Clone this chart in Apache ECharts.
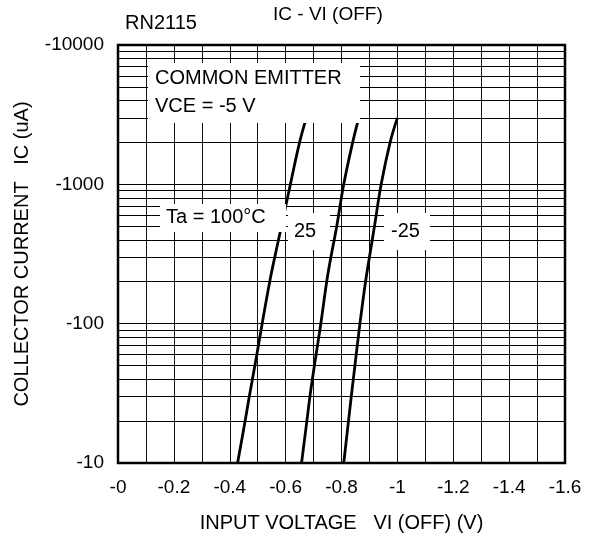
<!DOCTYPE html>
<html>
<head>
<meta charset="utf-8">
<script src="https://cdn.jsdelivr.net/npm/echarts@6/dist/echarts.min.js"></script>
<style>
  html, body { margin: 0; padding: 0; background: #fff; }
  #chart { width: 590px; height: 538px; }
</style>
</head>
<body>
<div id="chart"></div>
<script>
// magnitudes: the real values are negative (IC in uA, VI(OFF) in V)
const currentUA = [10, 20, 30, 50, 100, 200, 300, 500, 1000, 2000, 3000]
const viTa100 = [0.428, 0.455, 0.470, 0.490, 0.516, 0.543, 0.561, 0.585, 0.617, 0.650, 0.674]
const viTa25 = [0.657, 0.676, 0.687, 0.703, 0.726, 0.747, 0.762, 0.783, 0.808, 0.840, 0.862]
const viTaM25 = [0.808, 0.825, 0.835, 0.848, 0.866, 0.886, 0.900, 0.918, 0.942, 0.974, 1.000]

const xTicks = [0, 0.2, 0.4, 0.6, 0.8, 1.0, 1.2, 1.4, 1.6]
const yTicks = [10, 100, 1000, 10000]
const yMinorLines = [20, 30, 40, 50, 60, 70, 80, 90,
  200, 300, 400, 500, 600, 700, 800, 900,
  2000, 3000, 4000, 5000, 6000, 7000, 8000, 9000]

const font = 'Liberation Sans, Arial, sans-serif'
const fs = 19
const bigFs = 20

const chart = echarts.init(document.getElementById('chart'))

function curve (vs) {
  return vs.map((v, i) => [v, currentUA[i]])
}

function lineSeries (name, vs) {
  return {
    name: name,
    type: 'line',
    data: curve(vs),
    smooth: 0.4,
    symbol: 'none',
    lineStyle: { color: '#000', width: 2.8 },
    z: 5
  }
}

function note (x, y, text) {
  return {
    type: 'text',
    z: 101,
    x: x,
    y: y,
    style: { text: text, fill: '#000', font: bigFs + 'px ' + font }
  }
}

function whiteBox (x, y, w, h) {
  return {
    type: 'rect',
    z: 100,
    shape: { x: x, y: y, width: w, height: h },
    style: { fill: '#fff' }
  }
}

const option = {
  animation: false,
  backgroundColor: '#fff',
  grid: {
    left: 118,
    right: 25,
    top: 45,
    bottom: 75,
    containLabel: false,
    outerBoundsMode: 'none',
    show: true,
    borderColor: '#000',
    borderWidth: 2.5,
    z: 10
  },
  xAxis: {
    type: 'value',
    min: xTicks[0],
    max: xTicks[xTicks.length - 1],
    interval: 0.2,
    name: 'INPUT VOLTAGE   VI (OFF) (V)',
    nameLocation: 'middle',
    nameGap: 50,
    nameTextStyle: { color: '#000', fontSize: bigFs, fontFamily: font },
    axisLine: { show: false },
    axisTick: { show: false },
    axisLabel: {
      color: '#000',
      fontSize: fs,
      fontFamily: font,
      margin: 15,
      formatter: v => '-' + v
    },
    splitLine: { show: true, lineStyle: { color: '#111', width: 1 } },
    minorTick: { show: false, splitNumber: 2 },
    minorSplitLine: { show: true, lineStyle: { color: '#111', width: 1 } }
  },
  yAxis: {
    type: 'log',
    logBase: 10,
    min: yTicks[0],
    max: yTicks[yTicks.length - 1],
    name: 'COLLECTOR CURRENT   IC (uA)',
    nameLocation: 'middle',
    nameGap: 86,
    nameTextStyle: { color: '#000', fontSize: bigFs, fontFamily: font },
    axisLine: { show: false },
    axisTick: { show: false },
    axisLabel: {
      color: '#000',
      fontSize: fs,
      fontFamily: font,
      margin: 14,
      formatter: v => '-' + v
    },
    splitLine: { show: true, lineStyle: { color: '#000', width: 1 } }
  },
  series: [
    {
      type: 'line',
      data: [],
      markLine: {
        silent: true,
        symbol: 'none',
        label: { show: false },
        lineStyle: { color: '#000', width: 1, type: 'solid' },
        data: yMinorLines.map(v => ({ yAxis: v }))
      },
      z: 1
    },
    lineSeries('Ta = 100', viTa100),
    lineSeries('Ta = 25', viTa25),
    lineSeries('Ta = -25', viTaM25)
  ],
  graphic: [
    {
      type: 'text',
      x: 125,
      y: 13,
      style: { text: 'RN2115', fill: '#000', font: bigFs + 'px ' + font }
    },
    {
      type: 'text',
      x: 273,
      y: 5,
      style: { text: 'IC - VI (OFF)', fill: '#000', font: fs + 'px ' + font }
    },
    whiteBox(148, 63, 212, 60),
    note(155, 68, 'COMMON EMITTER'),
    note(155, 96, 'VCE = -5 V'),
    whiteBox(160, 204, 126, 28),
    note(166, 207, 'Ta = 100°C'),
    whiteBox(288, 213, 42, 37),
    note(294, 221, '25'),
    whiteBox(384, 213, 46, 37),
    note(391, 221, '-25')
  ]
}

chart.setOption(option)
</script>
</body>
</html>
